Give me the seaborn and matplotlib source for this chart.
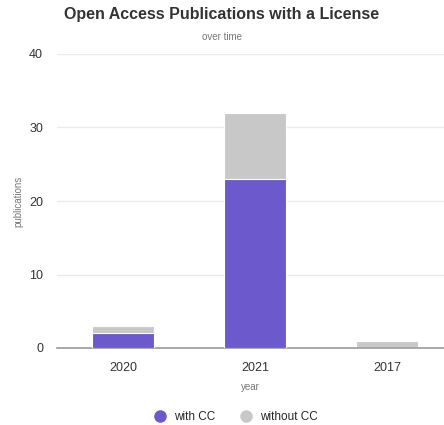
import matplotlib
matplotlib.use('Agg')
import matplotlib.pyplot as plt
import seaborn as sns
import pandas as pd
from matplotlib.lines import Line2D

# Data
years = ['2020', '2021', '2017']
with_cc = [2, 23, 0]
without_cc = [1, 9, 1]

df = pd.DataFrame({'year': years, 'with CC': with_cc, 'without CC': without_cc})
df['total'] = df['with CC'] + df['without CC']

purple = '#6c5acd'
grey = '#c8c8c8'

sns.set_style('white')
plt.rcParams['font.family'] = 'sans-serif'
plt.rcParams['font.sans-serif'] = ['Liberation Sans', 'DejaVu Sans']

fig = plt.figure(figsize=(4.44, 4.25), dpi=100)
ax = fig.add_axes([57 / 444, 77 / 425, 1 - 57 / 444, 294 / 425])

# stacked bars: total in grey, with CC on top in purple
sns.barplot(data=df, x='year', y='total', color=grey, width=0.47, saturation=1,
            edgecolor='white', linewidth=0.8, ax=ax, zorder=2)
sns.barplot(data=df, x='year', y='with CC', color=purple, width=0.47, saturation=1,
            edgecolor='white', linewidth=0.8, ax=ax, zorder=3)

ax.set_ylim(0, 40)
ax.set_xlim(-0.5, 2.43)
ax.set_yticks([0, 10, 20, 30, 40])
ax.yaxis.grid(True, color='#ebebeb', linewidth=1)
ax.set_axisbelow(True)
for s in ['top', 'right', 'left']:
    ax.spines[s].set_visible(False)
ax.spines['bottom'].set_color('#9a9a9a')
ax.spines['bottom'].set_linewidth(1.2)
ax.tick_params(axis='both', length=0, labelsize=9, colors='#333333')
ax.tick_params(axis='x', pad=10)
ax.tick_params(axis='y', pad=10)

ax.set_xlabel('year', fontsize=7, color='#777777', labelpad=6)
ax.set_ylabel('publications', fontsize=7, color='#777777', labelpad=4)

fig.text(0.5, 1 - 15 / 425, 'Open Access Publications with a License',
         ha='center', va='center', fontsize=11.5, fontweight='bold', color='#333333')
fig.text(0.5, 1 - 37 / 425, 'over time', ha='center', va='center',
         fontsize=7, color='#777777')

handles = [Line2D([], [], marker='o', linestyle='', markersize=8, color=purple),
           Line2D([], [], marker='o', linestyle='', markersize=8, color=grey)]
fig.legend(handles, ['with CC', 'without CC'], loc='center',
           bbox_to_anchor=(233 / 444, 1 - 417 / 425), ncol=2, frameon=False,
           fontsize=8.5, handletextpad=0.2, columnspacing=1.6)

fig.savefig('out.png', dpi=100)
